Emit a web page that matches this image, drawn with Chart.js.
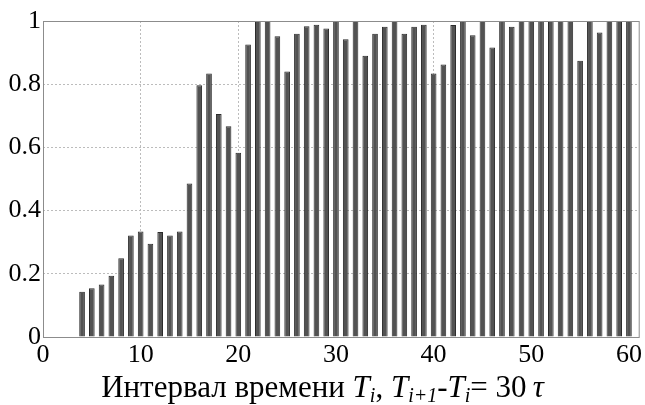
<!DOCTYPE html>
<html>
<head>
<meta charset="utf-8">
<script src="https://cdn.jsdelivr.net/npm/chart.js@4.4.1/dist/chart.umd.min.js"></script>
<style>
  html, body { margin: 0; padding: 0; background: #fff; }
</style>
</head>
<body>
<canvas id="chart" width="645" height="405"></canvas>
<script>
// данные
const intervals = [4, 5, 6, 7, 8, 9, 10, 11, 12, 13, 14, 15, 16, 17, 18, 19, 20,
  21, 22, 23, 24, 25, 26, 27, 28, 29, 30, 31, 32, 33, 34, 35, 36, 37, 38, 39, 40,
  41, 42, 43, 44, 45, 46, 47, 48, 49, 50, 51, 52, 53, 54, 55, 56, 57, 58, 59, 60];
const shares = [0.143, 0.154, 0.166, 0.194, 0.249, 0.321, 0.334, 0.295, 0.332, 0.321, 0.334, 0.486, 0.797, 0.834, 0.706, 0.667, 0.583,
  0.926, 1, 1, 0.952, 0.840, 0.960, 0.983, 0.988, 0.976, 1, 0.942, 1, 0.890, 0.960, 0.982, 1, 0.960, 0.982, 0.988, 0.834,
  0.862, 0.987, 1, 0.955, 1, 0.916, 1, 0.982, 1, 1, 1, 1, 1, 1, 0.874, 1, 0.964, 1, 1, 1];
const xTicks = [0, 10, 20, 30, 40, 50, 60];
const yTicks = [0, 0.2, 0.4, 0.6, 0.8, 1];

const serif = "'Liberation Serif', 'DejaVu Serif', serif";

// подпись оси X с курсивом и индексами
const axisTitle = [
  { t: 'Интервал времени ', it: false },
  { t: 'T', it: true },
  { t: 'i', it: true, sub: true },
  { t: ', ', it: false },
  { t: 'T', it: true },
  { t: 'i+1', it: true, sub: true },
  { t: '-', it: false },
  { t: 'T', it: true },
  { t: 'i', it: true, sub: true },
  { t: '= 30', it: false },
  { t: '\u2009', it: false },
  { t: 'τ', it: true }
];

const frameAndTitle = {
  id: 'frameAndTitle',
  afterDatasetsDraw(chart) {
    const { ctx, chartArea: a } = chart;
    ctx.save();
    ctx.strokeStyle = '#8c8c8c';
    ctx.lineWidth = 1;
    ctx.strokeRect(a.left + 0.5, a.top + 0.5, a.right - a.left, a.bottom - a.top);
    ctx.restore();
  },
  afterDraw(chart) {
    const ctx = chart.ctx;
    const font = (p) => (p.it ? 'italic ' : '') + (p.sub ? 20 : 31) + 'px ' + serif;
    ctx.save();
    ctx.fillStyle = '#000';
    ctx.textBaseline = 'alphabetic';
    let total = 0;
    axisTitle.forEach(p => { ctx.font = font(p); total += ctx.measureText(p.t).width; });
    let x = chart.width / 2 - total / 2;
    const base = 397;
    axisTitle.forEach(p => {
      ctx.font = font(p);
      ctx.fillText(p.t, x, p.sub ? base + 5 : base);
      x += ctx.measureText(p.t).width;
    });
    ctx.restore();
  }
};

new Chart(document.getElementById('chart'), {
  type: 'bar',
  data: {
    datasets: [{
      data: intervals.map((x, i) => ({ x: x, y: shares[i] })),
      backgroundColor: '#525252',
      borderColor: '#2b2b2b',
      borderWidth: 1,
      barPercentage: 0.58,
      categoryPercentage: 1
    }]
  },
  options: {
    responsive: false,
    animation: false,
    devicePixelRatio: 1,
    layout: { padding: { top: 21, right: 4, left: 0, bottom: 0 } },
    plugins: { legend: { display: false }, tooltip: { enabled: false } },
    scales: {
      x: {
        type: 'linear',
        min: 0,
        max: 61,
        offset: false,
        afterBuildTicks: (scale) => { scale.ticks = xTicks.map(v => ({ value: v })); },
        afterFit: (scale) => { scale.height = 68; },
        grid: { color: '#bcbcbc', drawTicks: false, offset: false },
        border: { display: false, dash: [2, 2] },
        ticks: { color: '#000', padding: 3, maxRotation: 0, font: { family: serif, size: 26 } }
      },
      y: {
        min: 0,
        max: 1,
        afterBuildTicks: (scale) => { scale.ticks = yTicks.map(v => ({ value: v })); },
        afterFit: (scale) => { scale.width = 43; },
        grid: { color: '#bcbcbc', drawTicks: false },
        border: { display: false, dash: [2, 2] },
        ticks: {
          color: '#000',
          padding: 2,
          font: { family: serif, size: 26 },
          callback: (v) => String(v)
        }
      }
    }
  },
  plugins: [frameAndTitle]
});
</script>
</body>
</html>
